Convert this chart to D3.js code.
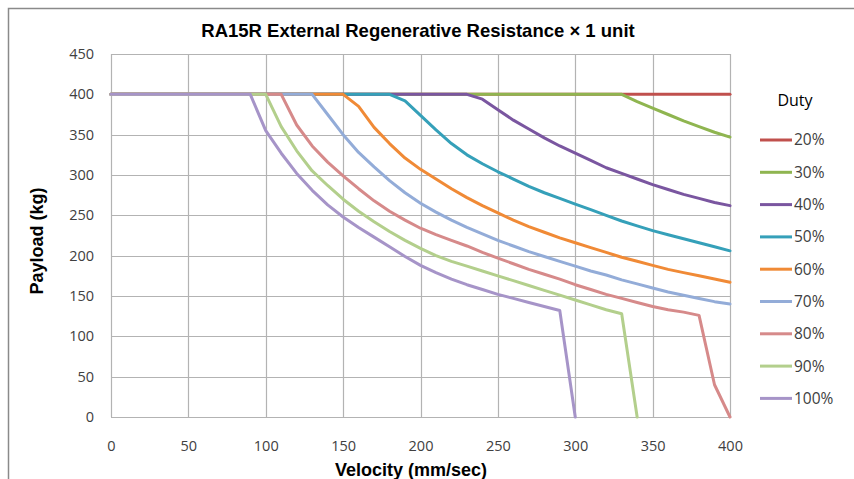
<!DOCTYPE html>
<html>
<head>
<meta charset="utf-8">
<script src="https://cdn.jsdelivr.net/npm/d3@7"></script>
<style>
  html, body { margin: 0; padding: 0; background: #fff; }
  svg { display: block; }
</style>
</head>
<body>
<svg id="chart" width="854" height="479"></svg>
<script>
const titleText = "RA15R External Regenerative Resistance \u00d7 1 unit";
const xLabel = "Velocity (mm/sec)";
const yLabel = "Payload (kg)";
const legendTitle = "Duty";

const velocity = [0,10,20,30,40,50,60,70,80,90,100,110,120,130,140,150,160,170,180,190,200,
  210,220,230,240,250,260,270,280,290,300,310,320,330,340,350,360,370,380,390,400];

const xTicks = [0,50,100,150,200,250,300,350,400];
const yTicks = [0,50,100,150,200,250,300,350,400,450];

const dutyLabels = ["20%","30%","40%","50%","60%","70%","80%","90%","100%"];
const dutyColors = ["#c0504d","#8fb550","#7a56a0","#35a0b9","#f08a36","#93acd8","#d68a8a","#b3cf8c","#a694c8"];

const duty20 = [400,400,400,400,400,400,400,400,400,400,400,400,400,400,400,400,400,400,400,400,400,
  400,400,400,400,400,400,400,400,400,400,400,400,400,400,400,400,400,400,400,400];
const duty30 = [400,400,400,400,400,400,400,400,400,400,400,400,400,400,400,400,400,400,400,400,400,
  400,400,400,400,400,400,400,400,400,400,400,400,400,391,383,375,367,360,353,347];
const duty40 = [400,400,400,400,400,400,400,400,400,400,400,400,400,400,400,400,400,400,400,400,400,
  400,400,400,394,381,368,357,346,336,327,318,309,302,295,288,282,276,271,266,262];
const duty50 = [400,400,400,400,400,400,400,400,400,400,400,400,400,400,400,400,400,400,400,392,374,
  356,339,325,314,304,295,286,278,271,264,257,250,243,237,231,226,221,216,211,206];
const duty60 = [400,400,400,400,400,400,400,400,400,400,400,400,400,400,400,400,385,359,339,321,307,
  295,283,272,262,253,244,236,229,222,216,210,204,198,193,188,183,179,175,171,167];
const duty70 = [400,400,400,400,400,400,400,400,400,400,400,400,400,400,375,350,328,310,293,278,265,
  254,244,235,227,219,212,205,199,193,187,181,176,170,165,160,155,151,147,143,140];
const duty80 = [400,400,400,400,400,400,400,400,400,400,400,400,362,336,316,299,283,268,255,244,234,
  226,219,212,204,197,190,183,177,171,164,158,152,147,142,137,133,130,126,40,0];
const duty90 = [400,400,400,400,400,400,400,400,400,400,400,360,330,305,287,270,255,242,230,219,209,
  200,193,187,181,175,169,163,157,151,145,139,133,128,0,null,null,null,null,null,null];
const duty100 = [400,400,400,400,400,400,400,400,400,400,355,327,302,281,263,248,235,223,211,199,188,
  179,171,164,158,152,147,142,137,132,0,null,null,null,null,null,null,null,null,null,null];

const dutySeries = [duty20,duty30,duty40,duty50,duty60,duty70,duty80,duty90,duty100];

const svg = d3.select("#chart");
const font = "'Open Sans', 'DejaVu Sans', sans-serif";
const boldFont = "'Liberation Sans', Arial, sans-serif";

// outer frame
svg.append("rect").attr("x", 8.5).attr("y", 8.5).attr("width", 860).attr("height", 490)
  .attr("fill", "#fff").attr("stroke", "#8a8a8a").attr("stroke-width", 1.5);

const x = d3.scaleLinear().domain([0, 400]).range([111, 730]);
const y = d3.scaleLinear().domain([0, 450]).range([417, 54]);

// grid
const grid = svg.append("g");
grid.selectAll("line.v").data(xTicks).join("line")
  .attr("x1", d => Math.round(x(d)) + 0.5).attr("x2", d => Math.round(x(d)) + 0.5)
  .attr("y1", y(450)).attr("y2", y(0))
  .attr("stroke", "#b3b3b3").attr("stroke-width", 1.2);
grid.selectAll("line.h").data(yTicks).join("line")
  .attr("y1", d => Math.round(y(d)) + 0.5).attr("y2", d => Math.round(y(d)) + 0.5)
  .attr("x1", x(0)).attr("x2", x(400))
  .attr("stroke", "#b3b3b3").attr("stroke-width", 1.2);

// axes (labels only)
const xAxis = svg.append("g").attr("transform", `translate(0,${y(0)})`)
  .call(d3.axisBottom(x).tickValues(xTicks).tickSize(0).tickPadding(24));
xAxis.select(".domain").remove();
xAxis.selectAll("text").attr("font-family", font).attr("font-size", 14.5).attr("fill", "#404040");

const yAxis = svg.append("g").attr("transform", `translate(${x(0)},0)`)
  .call(d3.axisLeft(y).tickValues(yTicks).tickSize(0).tickPadding(17));
yAxis.select(".domain").remove();
yAxis.selectAll("text").attr("font-family", font).attr("font-size", 14.5).attr("fill", "#404040");

// lines
const line = d3.line()
  .defined(d => d[1] !== null)
  .x(d => x(d[0])).y(d => y(d[1]));

dutySeries.forEach((vals, i) => {
  const pts = velocity.map((v, j) => [v, vals[j]]);
  svg.append("path").datum(pts)
    .attr("fill", "none").attr("stroke", dutyColors[i])
    .attr("stroke-width", 3).attr("stroke-linejoin", "round").attr("stroke-linecap", "round")
    .attr("d", line);
});

// title
svg.append("text").attr("x", 418).attr("y", 37).attr("text-anchor", "middle")
  .attr("font-family", boldFont).attr("font-weight", "bold").attr("font-size", 18.5)
  .attr("fill", "#000").text(titleText);

// axis titles
svg.append("text").attr("x", 411).attr("y", 476).attr("text-anchor", "middle")
  .attr("font-family", boldFont).attr("font-weight", "bold").attr("font-size", 18)
  .attr("fill", "#000").text(xLabel);
svg.append("text").attr("transform", "translate(43,241) rotate(-90)").attr("text-anchor", "middle")
  .attr("font-family", boldFont).attr("font-weight", "bold").attr("font-size", 18)
  .attr("fill", "#000").text(yLabel);

// legend
const lg = svg.append("g");
lg.append("text").attr("x", 795).attr("y", 106).attr("text-anchor", "middle")
  .attr("font-family", font).attr("font-size", 16).attr("fill", "#000").text(legendTitle);
const items = lg.selectAll("g.item").data(dutyLabels).join("g")
  .attr("transform", (d, i) => `translate(0,${140 + i * 32.3})`);
items.append("line").attr("x1", 760).attr("x2", 792).attr("y1", 0).attr("y2", 0)
  .attr("stroke", (d, i) => dutyColors[i]).attr("stroke-width", 3);
items.append("text").attr("x", 794).attr("y", 0).attr("dy", "0.35em")
  .attr("font-family", font).attr("font-size", 15.5).attr("fill", "#404040").text(d => d);
</script>
</body>
</html>
